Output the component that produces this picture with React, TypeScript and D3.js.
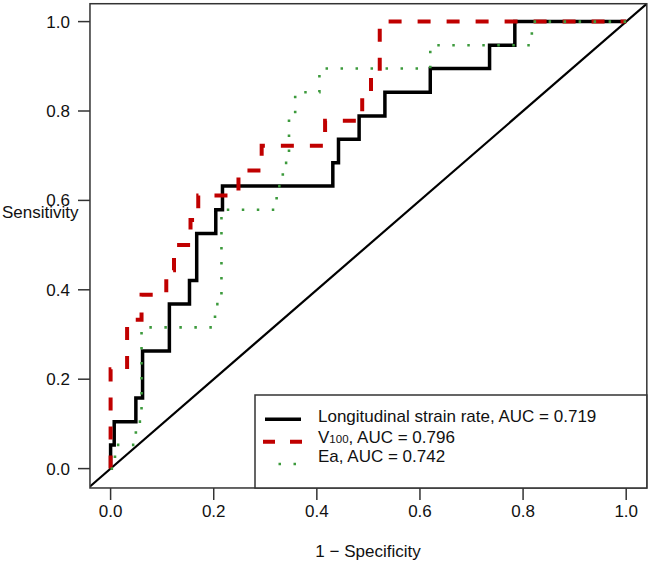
import React from "react";
import * as d3 from "d3";

// ROC step points (step-after): fpr / tpr
const lsrFpr = [0, 0, 0.007, 0.049, 0.062, 0.114, 0.153, 0.167, 0.204, 0.217, 0.431, 0.442, 0.482, 0.532, 0.62, 0.735, 0.784, 1];
const lsrTpr = [0, 0.053, 0.105, 0.158, 0.263, 0.368, 0.421, 0.526, 0.579, 0.632, 0.684, 0.737, 0.789, 0.842, 0.895, 0.947, 1.0, 1.0];

const v100Fpr = [0, 0, 0.032, 0.06, 0.108, 0.123, 0.155, 0.17, 0.248, 0.293, 0.416, 0.488, 0.505, 0.522, 1];
const v100Tpr = [0, 0.222, 0.333, 0.389, 0.444, 0.5, 0.556, 0.611, 0.667, 0.722, 0.778, 0.833, 0.889, 1.0, 1.0];

const eaFpr = [0, 0.0085, 0.049, 0.06, 0.2025, 0.215, 0.322, 0.334, 0.346, 0.358, 0.405, 0.62, 0.817, 1];
const eaTpr = [0, 0.053, 0.105, 0.316, 0.368, 0.579, 0.632, 0.684, 0.789, 0.842, 0.895, 0.947, 1.0, 1.0];

const xTicks = [0, 0.2, 0.4, 0.6, 0.8, 1.0];
const yTicks = [0, 0.2, 0.4, 0.6, 0.8, 1.0];

const legendLabels = ["Longitudinal strain rate, AUC = 0.719", "V100, AUC = 0.796", "Ea, AUC = 0.742"];

const W = 652;
const H = 566;

export default function App() {
  const xs = d3.scaleLinear().domain([0, 1]).range([110.6, 626.2]);
  const ys = d3.scaleLinear().domain([0, 1]).range([468.6, 21.6]);
  const x0 = xs(-0.04), x1 = xs(1.04);
  const y0 = ys(-0.04) + 1.5, y1 = ys(1.04);

  const line = d3
    .line<[number, number]>()
    .x((d) => xs(d[0]))
    .y((d) => ys(d[1]))
    .curve(d3.curveStepAfter);
  const pts = (fx: number[], ty: number[]) => fx.map((f, i) => [f, ty[i]] as [number, number]);

  const font = "'Liberation Sans', Arial, sans-serif";
  const fs = 17;

  const legX = 255, legY = 395;
  const rowLine = [419.3, 441.7, 464];
  const rowText = [421.5, 442.5, 462];

  return (
    <svg width={W} height={H} style={{ position: "absolute", left: 0, top: 0, background: "#fff" }} fontFamily={font}>
      <defs>
        <clipPath id="plotclip">
          <rect x={x0} y={y1} width={x1 - x0} height={y0 - y1} />
        </clipPath>
      </defs>
      <rect x={0} y={0} width={W} height={H} fill="#fff" />
      <g clipPath="url(#plotclip)">
        <line x1={xs(-0.04)} y1={ys(-0.04)} x2={xs(1.04)} y2={ys(1.04)} stroke="#000" strokeWidth={2.2} />
        <path d={line(pts(lsrFpr, lsrTpr)) || ""} fill="none" stroke="#000" strokeWidth={3.5} />
        <path d={line(pts(v100Fpr, v100Tpr)) || ""} fill="none" stroke="#c00000" strokeWidth={4} strokeDasharray="13 16" />
        <path d={line(pts(eaFpr, eaTpr)) || ""} fill="none" stroke="#3c9a3c" strokeWidth={2.6} strokeDasharray="2.5 12.5" />
      </g>
      <rect x={x0} y={y1} width={x1 - x0} height={y0 - y1} fill="none" stroke="#333" strokeWidth={1.5} />
      {xTicks.map((t) => (
        <g key={"x" + t}>
          <line x1={xs(t)} x2={xs(t)} y1={y0} y2={y0 + 12} stroke="#333" strokeWidth={1.5} />
          <text x={xs(t)} y={517} textAnchor="middle" fontSize={fs} fill="#111">
            {t.toFixed(1)}
          </text>
        </g>
      ))}
      {yTicks.map((t) => (
        <g key={"y" + t}>
          <line x1={x0 - 12} x2={x0} y1={ys(t)} y2={ys(t)} stroke="#333" strokeWidth={1.5} />
          <text x={70} y={ys(t)} dy="0.35em" textAnchor="end" fontSize={fs} fill="#111">
            {t.toFixed(1)}
          </text>
        </g>
      ))}
      <text x={368} y={557} textAnchor="middle" fontSize={fs} fill="#111">
        1 − Specificity
      </text>
      <text x={2} y={218} fontSize={fs} fill="#111">
        Sensitivity
      </text>
      <rect x={legX} y={legY} width={x1 - legX} height={y0 - legY} fill="#fff" stroke="#333" strokeWidth={1.5} />
      <line x1={265} x2={301} y1={rowLine[0]} y2={rowLine[0]} stroke="#000" strokeWidth={3.5} />
      <line x1={263} x2={302} y1={rowLine[1]} y2={rowLine[1]} stroke="#c00000" strokeWidth={4} strokeDasharray="12 15" />
      <line x1={278.5} x2={301} y1={rowLine[2]} y2={rowLine[2]} stroke="#3c9a3c" strokeWidth={2.6} strokeDasharray="2.5 12.5" />
      <text x={318} y={rowText[0]} fontSize={fs} fill="#111">
        {legendLabels[0]}
      </text>
      <text x={318} y={rowText[1]} fontSize={fs} fill="#111">
        V<tspan fontSize={11.5}>100</tspan>
        {legendLabels[1].slice(4)}
      </text>
      <text x={318} y={rowText[2]} fontSize={fs} fill="#111">
        {legendLabels[2]}
      </text>
    </svg>
  );
}
